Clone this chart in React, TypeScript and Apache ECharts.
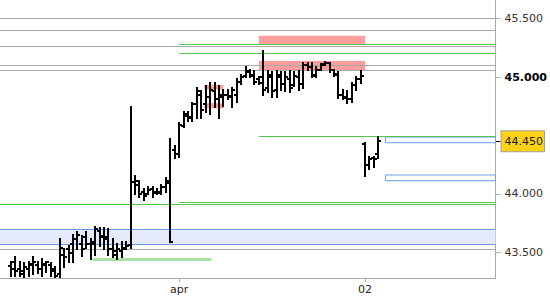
import React, { useEffect, useRef } from "react";
import * as echarts from "echarts";

// x axis: bar slots (value axis over slot indices)
const dayLabels = ["apr", "02"];
const dayStarts = [40, 82];
const firstBar = 2;

// OHLC bars, left to right
const opens = [
  43.38, 43.42, 43.36, 43.34, 43.36, 43.4, 43.39, 43.36, 43.39, 43.39, 43.36, 43.31, 43.48, 43.53, 43.57,
  43.61, 43.57, 43.63, 43.57, 43.57, 43.68, 43.64, 43.63, 43.53, 43.51, 43.51, 43.54, 43.56, 44.1, 44.08,
  44.02, 44.0, 44.04, 44.01, 44.01, 44.06, 44.09, 44.38, 44.34, 44.58, 44.67, 44.65, 44.77, 44.85, 44.77,
  44.83, 44.88, 44.81, 44.83, 44.85, 44.83, 44.85, 44.96, 45.01, 45.04, 45.01, 44.98, 45.0, 44.91, 45.0,
  44.89, 45.0, 44.94, 44.98, 44.93, 45.0, 44.94, 45.1, 45.09, 45.02, 45.06, 45.11, 45.12, 45.06, 45.02,
  44.85, 44.83, 44.81, 44.93, 44.98, 44.43, 44.25, 44.31, 44.34,
];
const highs = [
  43.42, 43.46, 43.42, 43.41, 43.42, 43.46, 43.42, 43.44, 43.42, 43.41, 43.37, 43.61, 43.53, 43.55, 43.65,
  43.67, 43.64, 43.67, 43.61, 43.72, 43.71, 43.71, 43.7, 43.61, 43.57, 43.59, 43.59, 44.74, 44.15, 44.11,
  44.04, 44.06, 44.06, 44.04, 44.08, 44.14, 44.47, 44.41, 44.61, 44.7, 44.7, 44.78, 44.91, 44.88, 44.92,
  44.95, 44.95, 44.92, 44.89, 44.89, 44.91, 44.98, 45.02, 45.09, 45.06, 45.05, 45.0, 45.22, 45.05, 45.04,
  45.05, 45.04, 45.04, 45.05, 45.04, 45.05, 45.12, 45.12, 45.12, 45.09, 45.11, 45.13, 45.12, 45.06, 45.04,
  44.89, 44.88, 44.95, 45.0, 45.05, 44.44, 44.32, 44.32, 44.49,
];
const lows = [
  43.3, 43.3, 43.3, 43.29, 43.3, 43.31, 43.32, 43.3, 43.33, 43.3, 43.29, 43.29, 43.37, 43.42, 43.42,
  43.53, 43.47, 43.54, 43.44, 43.48, 43.55, 43.53, 43.48, 43.46, 43.44, 43.46, 43.53, 43.54, 44.0, 43.97,
  43.95, 44.0, 43.97, 44.0, 44.0, 44.02, 43.59, 44.31, 44.32, 44.57, 44.62, 44.62, 44.65, 44.65, 44.7,
  44.68, 44.74, 44.65, 44.75, 44.81, 44.74, 44.79, 44.94, 45.0, 45.0, 44.94, 44.94, 44.85, 44.87, 44.83,
  44.83, 44.89, 44.88, 44.87, 44.92, 44.89, 44.91, 45.06, 45.0, 45.0, 45.06, 45.1, 45.04, 45.01, 44.82,
  44.81, 44.78, 44.79, 44.89, 44.95, 44.15, 44.21, 44.23, 44.31,
];
const closes = [
  43.36, 43.34, 43.31, 43.37, 43.39, 43.42, 43.36, 43.4, 43.42, 43.34, 43.3, 43.54, 43.46, 43.49, 43.61,
  43.65, 43.53, 43.57, 43.59, 43.7, 43.63, 43.61, 43.53, 43.48, 43.53, 43.53, 43.55, 44.1, 44.11, 44.0,
  43.98, 44.03, 44.02, 44.02, 44.06, 44.11, 43.59, 44.34, 44.59, 44.68, 44.66, 44.77, 44.88, 44.72, 44.83,
  44.89, 44.81, 44.85, 44.85, 44.84, 44.89, 44.96, 45.0, 45.05, 45.02, 44.96, 44.95, 44.89, 45.02, 44.88,
  45.02, 44.94, 45.0, 44.91, 45.01, 44.94, 45.1, 45.09, 45.01, 45.06, 45.1, 45.12, 45.06, 45.03, 44.85,
  44.82, 44.81, 44.93, 44.98, 45.01, 44.25, 44.3, 44.3, 44.45,
];

// y axis
const yTicks = [43.5, 44.0, 44.45, 45.0, 45.5];
const boldTicks = [45.0];
const lastPrice = 44.45;

// horizontal levels
const grayLevels = [45.5, 45.401, 45.255, 45.101, 45.058, 43.526];
const greenLevelsFromApr = [45.277, 45.2, 43.928];
const greenLevelsFull = [43.913];
const greenLevelLate = [44.49];
const blueZone = [43.568, 43.697];
const lightGreenLevel = [43.443];
const lightGreenSpan = [20.4, 47.3];
const lateLevelStart = [58];

// zones [fromSlot, toSlot, low, high]
const pinkZones = [
  [58, 82, 45.275, 45.354],
  [58, 82, 45.058, 45.138],
  [45.7, 50, 44.895, 44.932],
  [45.7, 50, 44.733, 44.776],
];
const blueBoxes = [
  [86.6, 111.5, 44.438, 44.487],
  [86.6, 111.5, 44.113, 44.162],
];

const X_MIN = -0.5;
const X_MAX = 111.5;
const Y_MIN = 43.28;
const Y_MAX = 45.66;

const GRAY = "#a9a9a9";
const GREEN = "#52c84a";
const BLUE = "#6b9cef";
const FONT = "DejaVu Sans";

export default function App() {
  const ref = useRef<HTMLDivElement>(null);

  useEffect(() => {
    if (!ref.current) return;
    const chart = echarts.init(ref.current, undefined, { renderer: "svg" });

    const bars = opens.map((o, k) => [firstBar + k, o, highs[k], lows[k], closes[k]]);

    const ls = (color: string, width = 1) => ({ color, width, type: "solid" as const });

    const markLineData: any[] = [];
    grayLevels.forEach((v) => markLineData.push({ yAxis: v, lineStyle: ls(GRAY) }));
    greenLevelsFull.forEach((v) => markLineData.push({ yAxis: v, lineStyle: ls(GREEN) }));
    greenLevelsFromApr.forEach((v) =>
      markLineData.push([{ coord: [dayStarts[0], v], lineStyle: ls(GREEN) }, { coord: [X_MAX, v] }])
    );
    greenLevelLate.forEach((v) =>
      markLineData.push([{ coord: [lateLevelStart[0], v], lineStyle: ls(GREEN) }, { coord: [X_MAX, v] }])
    );
    blueZone.forEach((v) => markLineData.push({ yAxis: v, lineStyle: ls(BLUE) }));
    lightGreenLevel.forEach((v) =>
      markLineData.push([
        { coord: [lightGreenSpan[0], v], lineStyle: ls("#a8e2a2", 3) },
        { coord: [lightGreenSpan[1], v] },
      ])
    );

    const markAreaData: any[] = [];
    markAreaData.push([{ yAxis: blueZone[1], itemStyle: { color: "#e6ebfc" } }, { yAxis: blueZone[0] }]);
    pinkZones.forEach((z) =>
      markAreaData.push([{ coord: [z[0], z[3]], itemStyle: { color: "#ff9c9c" } }, { coord: [z[1], z[2]] }])
    );
    blueBoxes.forEach((z) =>
      markAreaData.push([
        { coord: [z[0], z[3]], itemStyle: { color: "rgba(255,255,255,0)", borderColor: BLUE, borderWidth: 1 } },
        { coord: [z[1], z[2]] },
      ])
    );

    chart.setOption({
      animation: false,
      grid: { left: 0, right: 51, top: 0, bottom: 22 },
      xAxis: {
        type: "value",
        min: X_MIN,
        max: X_MAX,
        splitLine: { show: false },
        axisLine: { onZero: false, lineStyle: { color: "#aaaaaa" } },
        axisTick: { customValues: dayStarts, length: 4, lineStyle: { color: "#aaaaaa" } },
        axisLabel: {
          customValues: dayStarts,
          formatter: (v: number) => dayLabels[dayStarts.indexOf(v)] ?? "",
          margin: 6,
          color: "#222",
          fontFamily: FONT,
          fontSize: 11,
        },
      },
      yAxis: [
        {
          type: "value",
          position: "right",
          min: Y_MIN,
          max: Y_MAX,
          splitLine: { show: false },
          axisLine: { show: true, onZero: false, lineStyle: { color: "#aaaaaa" } },
          axisTick: {
            show: true,
            customValues: yTicks.filter((t) => t !== lastPrice),
            length: 5,
            lineStyle: { color: "#aaaaaa" },
          },
          axisLabel: {
            customValues: yTicks,
            margin: 6,
            fontFamily: FONT,
            fontSize: 11,
            color: "#333",
            formatter: (v: number) => {
              const s = v.toFixed(3);
              if (Math.abs(v - lastPrice) < 1e-6) return `{p|${s}}`;
              if (boldTicks.some((b) => Math.abs(b - v) < 1e-6)) return `{b|${s}}`;
              return `{n|${s}}`;
            },
            rich: {
              n: { padding: [0, 0, 0, 3], fontFamily: FONT, fontSize: 11, color: "#333" },
              b: { padding: [0, 0, 0, 3], fontFamily: FONT, fontSize: 11, color: "#000", fontWeight: "bold" },
              p: {
                padding: [5, 1, 4, 3],
                fontFamily: FONT,
                fontSize: 11,
                color: "#222",
                backgroundColor: "#fcd116",
                borderColor: "#a0a0a0",
                borderWidth: 1,
              },
            },
          },
        },
        {
          type: "value",
          position: "right",
          min: Y_MIN,
          max: Y_MAX,
          splitLine: { show: false },
          axisLine: { show: false, onZero: false },
          axisTick: { show: true, customValues: [lastPrice], length: 5, lineStyle: { color: "#000", width: 1 } },
          axisLabel: { show: false },
        },
      ],
      series: [
        {
          type: "line",
          data: [],
          silent: true,
          z: 1,
          markArea: { silent: true, z: 1, data: markAreaData, label: { show: false } },
          markLine: {
            silent: true,
            z: 2,
            symbol: "none",
            label: { show: false },
            lineStyle: { type: "solid" },
            emphasis: { disabled: true },
            data: markLineData,
          },
        },
        {
          type: "custom",
          z: 5,
          silent: true,
          data: bars,
          encode: { x: 0, y: [1, 2, 3, 4] },
          renderItem: (_params: any, api: any) => {
            const i = api.value(0);
            const o = api.coord([i, api.value(1)]);
            const h = api.coord([i, api.value(2)]);
            const l = api.coord([i, api.value(3)]);
            const c = api.coord([i, api.value(4)]);
            const x = Math.round(o[0]);
            const st = { stroke: "#000", lineWidth: 2 };
            return {
              type: "group",
              children: [
                { type: "line", shape: { x1: x, y1: Math.round(h[1]) - 1, x2: x, y2: Math.round(l[1]) + 1 }, style: st },
                { type: "line", shape: { x1: x - 3, y1: Math.round(o[1]), x2: x, y2: Math.round(o[1]) }, style: st },
                { type: "line", shape: { x1: x, y1: Math.round(c[1]), x2: x + 3, y2: Math.round(c[1]) }, style: st },
              ],
            };
          },
        },
      ],
    });

    return () => chart.dispose();
  }, []);

  return (
    <div
      ref={ref}
      style={{ position: "fixed", left: 0, top: 0, width: 550, height: 300, background: "#fff" }}
    />
  );
}
